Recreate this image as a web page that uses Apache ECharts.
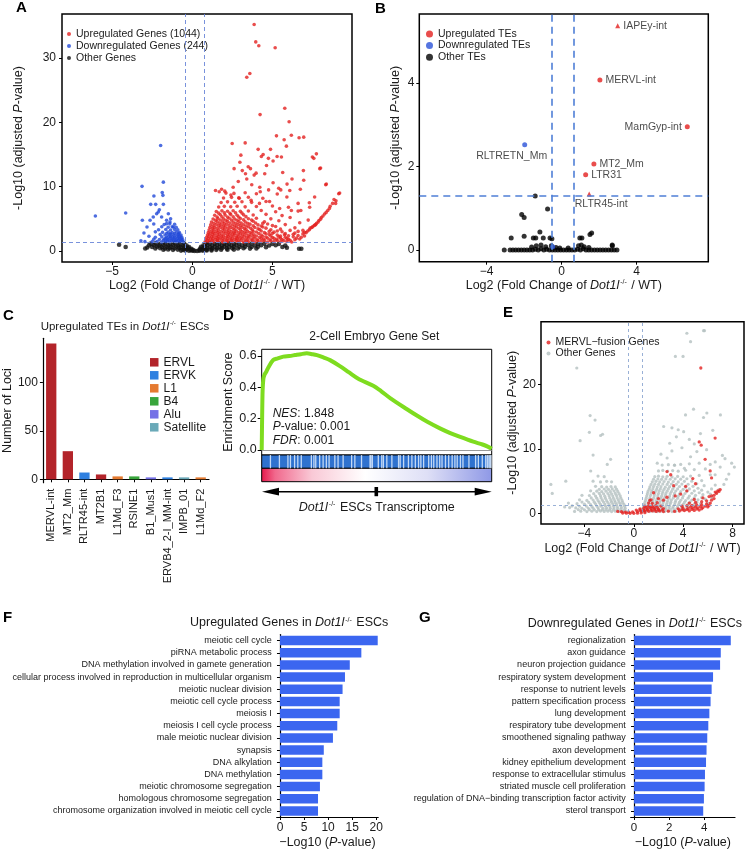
<!DOCTYPE html>
<html>
<head>
<meta charset="utf-8">
<script src="https://cdn.jsdelivr.net/npm/echarts@6/dist/echarts.min.js"></script>
<style>
  html, body { margin: 0; padding: 0; background: #fff; }
  #main { width: 745px; height: 850px; }
</style>
</head>
<body>
<div id="main"></div>
<script>
// ---------- data ----------
// A: volcano of genes (log2FC, -log10 padj)
const upA = [
  [3.86,35.2],[3.96,32.5],[4.15,31.9],[5.17,31.6],[3.40,27.0],[3.59,27.6],[5.77,22.2],[4.23,21.2],[6.04,20.1],[5.25,17.9],
  [6.18,18.0],[5.73,17.3],[6.66,17.6],[6.95,17.7],[2.49,16.7],[3.30,16.8],[5.87,16.3],[4.11,15.8],[4.88,15.8],[7.74,15.1],
  [7.49,14.6],[4.42,15.0],[4.75,14.4],[5.29,14.7],[5.04,14.0],[5.56,14.6],[2.97,13.8],[3.49,13.1],[3.63,12.8],[2.61,12.8],
  [7.95,12.8],[4.63,13.3],[6.93,12.5],[6.22,11.2],[4.52,12.0],[3.32,12.0],[6.95,11.0],[3.40,11.2],[3.86,11.8],[5.04,10.6],
  [8.32,10.3],[2.55,9.9],[4.21,9.9],[1.45,9.4],[2.03,9.3],[5.52,9.5],[6.08,9.4],[9.13,8.9],[7.63,8.4],[8.84,8.0],
  [8.94,7.4],[6.60,7.4],[7.32,6.8],[3.03,14.9],[4.31,14.7],[3.12,12.5],[3.98,12.1],[5.64,12.2],[5.91,10.4],[6.74,9.6],
  [7.58,14.4],[8.00,12.9],[8.36,10.4],[9.19,9.0],[8.96,7.8],[2.87,10.8],[3.71,10.3],[4.24,9.2],[4.76,9.5],[5.39,9.75],
  [1.68,9.2],[1.83,9.6],[2.41,8.7],[2.93,8.2],[3.67,7.9],[4.19,7.4],[4.82,7.7],[5.45,6.6],[6.18,6.3],[6.77,6.3],[7.23,4.8],
  [0.80,1.42],[1.05,1.50],[1.30,1.44],[1.60,1.52],[1.90,1.41],[2.20,1.48],[2.50,1.43],[2.85,1.50],[3.20,1.40],[3.50,1.47],
  [3.90,1.42],[4.30,1.51],[4.70,1.40],[5.10,1.46],[5.50,1.42],[5.90,1.49],[6.20,1.41],
  [0.95,1.62],[1.25,1.66],[1.55,1.60],[1.85,1.64],[2.15,1.61],[2.45,1.67],[2.75,1.62],[3.05,1.65],[3.40,1.60],[3.75,1.66],
  [4.10,1.61],[4.50,1.64],[4.90,1.60],[5.30,1.63],[5.70,1.61],[6.10,1.66],
  [0.85,1.76],[1.15,1.84],[1.45,1.78],[1.70,1.86],[2.00,1.75],[2.35,1.82],[2.65,1.77],[2.95,1.85],[3.30,1.74],[3.70,1.80],
  [4.05,1.76],[4.45,1.83],[4.85,1.75],[5.25,1.81],[5.60,1.77],[6.00,1.84],[6.40,1.76],[6.70,1.86],
  [1.00,1.96],[1.30,1.99],[1.60,1.94],[1.90,1.98],[2.20,1.95],[2.50,2.00],[2.80,1.96],[3.15,1.99],[3.50,1.94],[3.90,1.98],
  [4.30,1.95],[4.70,2.00],[5.10,1.96],[5.50,1.99],[5.90,1.95],[6.50,2.00],
  [0.90,2.12],[1.20,2.20],[1.50,2.10],[1.80,2.18],[2.10,2.13],[2.40,2.21],[2.75,2.11],[3.05,2.17],[3.40,2.14],[3.80,2.22],
  [4.20,2.12],[4.60,2.16],[5.00,2.11],[5.40,2.19],[5.80,2.13],[6.30,2.20],[6.80,2.14],[7.00,2.32],
  [1.05,2.31],[1.35,2.34],[1.65,2.29],[1.95,2.33],[2.25,2.30],[2.60,2.35],[2.90,2.31],[3.25,2.34],[3.60,2.29],[4.00,2.33],
  [4.40,2.30],[4.90,2.35],[5.50,2.31],[6.00,2.36],[6.60,2.40],
  [0.95,2.48],[1.25,2.55],[1.55,2.46],[1.85,2.53],[2.20,2.49],[2.50,2.57],[2.80,2.47],[3.15,2.54],[3.50,2.45],[3.85,2.52],
  [4.30,2.48],[4.80,2.56],[5.30,2.47],[5.75,2.53],[6.30,2.60],[6.90,2.66],[7.10,2.85],
  [1.10,2.68],[1.40,2.72],[1.70,2.66],[2.05,2.71],[2.35,2.67],[2.65,2.73],[3.00,2.68],[3.35,2.72],[3.70,2.66],[4.15,2.71],
  [4.60,2.67],[5.00,2.74],[5.80,2.70],[6.40,2.78],[7.00,2.90],
  [1.00,2.85],[1.30,2.93],[1.60,2.87],[1.95,2.95],[2.25,2.84],[2.60,2.92],[2.90,2.86],[3.25,2.94],[3.60,2.88],[4.00,2.96],
  [4.50,2.85],[5.10,2.93],[5.60,3.00],[6.60,3.05],[7.20,3.10],[7.30,3.30],
  [1.20,3.04],[1.50,3.08],[1.80,3.03],[2.15,3.07],[2.45,3.02],[2.75,3.09],[3.10,3.04],[3.45,3.08],[3.80,3.03],[4.30,3.10],
  [4.80,3.05],[5.30,3.12],[6.90,3.20],
  [1.05,3.25],[1.35,3.33],[1.65,3.27],[2.00,3.35],[2.30,3.24],[2.65,3.31],[3.00,3.28],[3.35,3.36],[3.75,3.26],[4.20,3.34],
  [4.90,3.30],[5.50,3.40],[6.10,3.20],[7.35,3.55],[7.50,3.75],
  [1.25,3.48],[1.55,3.52],[1.90,3.47],[2.20,3.53],[2.55,3.49],[2.90,3.54],[3.25,3.48],[3.65,3.52],[4.10,3.47],[4.60,3.55],[7.45,3.65],
  [1.10,3.66],[1.40,3.74],[1.75,3.68],[2.05,3.76],[2.40,3.65],[2.75,3.72],[3.10,3.69],[3.50,3.77],[3.90,3.66],[4.40,3.73],
  [5.20,3.80],[6.40,3.60],[7.60,3.95],[7.70,4.10],
  [1.30,3.88],[1.65,3.92],[1.95,3.87],[2.30,3.93],[2.65,3.88],[3.00,3.94],[3.35,3.89],[3.80,3.93],[4.30,3.88],[5.00,3.95],[7.65,4.05],
  [1.15,4.06],[1.50,4.14],[1.80,4.08],[2.15,4.16],[2.50,4.05],[2.85,4.12],[3.20,4.09],[3.60,4.17],[4.10,4.06],[4.70,4.20],
  [5.80,4.10],[7.75,4.30],[7.85,4.50],
  [1.35,4.30],[1.70,4.34],[2.00,4.29],[2.35,4.35],[2.70,4.30],[3.05,4.36],[3.45,4.31],[3.95,4.35],[4.40,4.30],
  [1.20,4.50],[1.55,4.58],[1.90,4.52],[2.20,4.60],[2.55,4.49],[2.90,4.56],[3.30,4.53],[3.80,4.62],[4.50,4.55],[5.40,4.70],
  [6.70,4.40],[7.90,4.75],[8.00,4.95],
  [1.45,4.78],[1.75,4.82],[2.10,4.77],[2.45,4.83],[2.80,4.78],[3.20,4.84],[3.70,4.80],
  [1.30,4.98],[1.60,5.06],[1.95,5.00],[2.30,5.08],[2.65,4.97],[3.00,5.04],[3.50,5.02],[4.00,5.10],[4.90,5.00],[6.10,5.20],
  [8.05,5.20],[8.15,5.45],
  [1.55,5.28],[1.85,5.32],[2.20,5.27],[2.55,5.33],[2.90,5.28],[3.35,5.34],
  [1.40,5.55],[1.75,5.64],[2.05,5.58],[2.40,5.66],[2.80,5.56],[3.20,5.62],[3.80,5.60],[4.60,5.70],[5.60,5.50],[8.25,5.75],[8.35,6.00],
  [1.65,5.88],[2.00,5.92],[2.35,5.87],[2.70,5.93],[3.10,5.89],
  [1.50,6.15],[1.85,6.24],[2.20,6.18],[2.55,6.26],[3.00,6.16],[3.50,6.22],[4.30,6.30],[5.20,6.10],[6.60,6.20],[8.45,6.30],[8.55,6.60],
  [1.65,6.85],[2.00,6.94],[2.40,6.88],[2.80,6.96],[3.30,6.86],[4.00,6.92],[5.00,7.00],[6.00,6.80],[8.60,6.95],
  [1.80,7.55],[2.20,7.64],[2.65,7.58],[3.10,7.66],[3.70,7.56],[4.60,7.70],[7.30,7.50],[8.75,7.40],
  [1.95,8.25],[2.45,8.34],[2.90,8.28],[3.50,8.36],[4.40,8.20],[5.90,8.40],
  [2.10,9.00],[2.60,8.95],[3.30,9.05],[4.00,8.90],[5.30,8.85]
];
const downA = [
  [-6.04,5.44],[-4.15,5.90],[-3.13,10.05],[-1.97,16.4],[-1.80,10.7],[-1.87,9.1],[-1.83,8.65],[-2.39,8.55],[-2.59,7.25],
  [-2.28,7.25],[-1.80,7.25],[-3.11,4.77],[-2.82,3.73],[-3.01,2.80],[-2.63,4.77],[-2.22,5.80],[-1.91,5.28],[-1.60,4.77],
  [-2.05,6.40],[-1.35,5.00],[-2.70,2.30],[-3.20,1.60],[-2.95,1.45],[-2.43,5.28],[-2.12,6.06],[-1.49,5.80],[-1.60,4.25],
  [-1.39,4.50],[-1.18,3.73],
  [-0.55,1.42],[-0.75,1.50],[-0.95,1.43],[-1.15,1.52],[-1.40,1.44],[-1.65,1.49],[-1.90,1.41],[-2.20,1.47],[-2.50,1.45],
  [-0.65,1.62],[-0.85,1.65],[-1.05,1.60],[-1.30,1.64],[-1.55,1.61],[-1.80,1.66],
  [-0.60,1.78],[-0.80,1.85],[-1.00,1.76],[-1.25,1.83],[-1.50,1.79],[-1.75,1.86],[-2.05,1.77],[-2.40,1.82],
  [-0.70,1.96],[-0.92,1.99],[-1.15,1.94],[-1.40,1.98],[-1.65,1.95],
  [-0.65,2.12],[-0.85,2.19],[-1.10,2.11],[-1.35,2.18],[-1.60,2.13],[-1.90,2.20],[-2.30,2.14],
  [-0.78,2.31],[-1.00,2.34],[-1.25,2.29],[-1.50,2.33],
  [-0.70,2.48],[-0.90,2.55],[-1.15,2.47],[-1.40,2.54],[-1.70,2.49],[-2.00,2.56],
  [-0.85,2.70],[-1.10,2.73],[-1.35,2.68],[-1.60,2.72],
  [-0.80,2.88],[-1.00,2.95],[-1.25,2.86],[-1.50,2.93],[-1.85,2.90],[-2.30,2.98],
  [-0.90,3.28],[-1.10,3.35],[-1.35,3.27],[-1.65,3.34],[-2.10,3.30],
  [-1.00,3.70],[-1.25,3.78],[-1.50,3.69],[-1.90,3.76],
  [-1.10,4.15],[-1.40,4.22],[-1.75,4.12],[-2.40,4.20]
];
const otherA = [
  [-4.56,0.98],[-4.15,0.62],[-2.93,0.40],[-2.80,0.55],[6.66,0.35],[6.80,0.35],[5.62,0.62],[5.90,0.50],
  [-2.60,1.14],[-2.30,1.18],[-2.00,1.12],[-1.70,1.17],[-1.40,1.13],[-1.10,1.19],[-0.80,1.12],[-0.50,1.16],
  [0.85,1.15],[1.10,1.19],[1.40,1.12],[1.70,1.17],[2.00,1.13],[2.30,1.18],[2.60,1.12],[2.90,1.16],[3.30,1.13],[3.70,1.17],
  [4.10,1.12],[4.50,1.15],[5.00,1.11],[5.40,1.10],
  [-2.70,0.88],[-2.40,0.93],[-2.10,0.87],[-1.80,0.92],[-1.50,0.89],[-1.20,0.94],[-0.90,0.88],[-0.60,0.92],[-0.35,0.86],
  [0.70,0.90],[0.95,0.94],[1.25,0.88],[1.55,0.93],[1.85,0.87],[2.15,0.92],[2.45,0.89],[2.75,0.94],[3.10,0.88],[3.50,0.92],
  [3.90,0.87],[4.30,0.91],[4.80,0.86],[5.20,0.90],[5.80,0.84],
  [-2.50,0.63],[-2.20,0.68],[-1.90,0.62],[-1.60,0.67],[-1.30,0.64],[-1.00,0.69],[-0.70,0.63],[-0.45,0.66],[-0.20,0.60],
  [0.55,0.64],[0.80,0.68],[1.10,0.62],[1.40,0.67],[1.70,0.63],[2.00,0.68],[2.30,0.62],[2.60,0.66],[2.95,0.63],[3.30,0.67],
  [3.70,0.62],[4.10,0.65],[4.60,0.60],
  [-2.30,0.38],[-2.00,0.43],[-1.70,0.37],[-1.40,0.42],[-1.10,0.39],[-0.80,0.44],[-0.50,0.38],[-0.25,0.41],[-0.05,0.36],
  [0.50,0.39],[0.70,0.43],[0.95,0.37],[1.25,0.42],[1.55,0.38],[1.85,0.43],[2.15,0.37],[2.50,0.41],[2.85,0.38],[3.20,0.42],
  [3.60,0.37],[4.00,0.40],
  [-1.80,0.20],[-1.50,0.24],[-1.20,0.18],[-0.90,0.22],[-0.60,0.19],[-0.35,0.23],[-0.10,0.17],[0.05,0.14],[0.45,0.18],
  [0.65,0.22],[0.90,0.19],[1.20,0.23],[1.50,0.18],[1.80,0.21],[2.20,0.19],[2.60,0.22],
  [-0.70,0.06],[-0.45,0.08],[-0.20,0.05],[0.00,0.04],[0.15,0.02],[0.30,0.01],[0.45,0.03],[0.65,0.06],[0.90,0.08],[1.20,0.07]
];
const threshA = [-0.42, 0.75];
const pCutA = 1.3;

// B: volcano of TE families
const upTeNames = ['IAPEy-int', 'MERVL-int', 'MamGyp-int', 'MT2_Mm', 'LTR31', 'RLTR45-int'];
const upTeX = [2.99, 2.04, 6.70, 1.72, 1.28, 1.47];
const upTeY = [5.37, 4.07, 2.95, 2.06, 1.80, 1.34];
const downTeNames = ['RLTRETN_Mm', ''];
const downTeX = [-1.97, -0.48];
const downTeY = [2.52, 0.08];
const otherB = [
  [-3.06,0],[-2.75,0],[-2.60,0],[-2.45,0],[-2.30,0],[-2.15,0],[-2.00,0],[-1.85,0],[-1.70,0],[-1.55,0],[-1.40,0.02],
  [-1.25,0],[-1.10,0.03],[-0.95,0],[-0.80,0.02],[-0.65,0],[-0.50,0],[-0.35,0],[-0.20,0],[-0.05,0],[0.10,0],[0.25,0],
  [0.40,0],[0.55,0],[0.70,0],[0.85,0.02],[1.00,0],[1.15,0.03],[1.30,0],[1.45,0],[1.60,0],[1.75,0],[1.90,0],[2.05,0],
  [2.20,0],[2.35,0],[2.50,0],[2.65,0],[2.80,0],[2.95,0],
  [-1.35,0.10],[-1.10,0.12],[-0.85,0.08],[-0.55,0.10],[-0.30,0.06],[0.35,0.05],[0.90,0.10],[1.05,0.12],[1.20,0.08],
  [1.45,0.06],[2.70,0.10],[-1.60,0.07],[-0.10,0.05],
  [-1.41,1.29],[-0.75,0.98],[-2.13,0.85],[-2.00,0.78],[-2.69,0.29],[-2.00,0.33],[-1.51,0.29],[-1.38,0.29],[-1.16,0.43],
  [-0.98,0.29],[-0.62,0.29],[-0.52,0.27],[0.97,0.29],[1.08,0.29],[1.51,0.37],[1.60,0.41],[2.70,0.12]
];
const threshB = [-0.53, 0.66];
const pCutB = 1.3;

// C: upregulated TE loci
const teCats = ['MERVL-int', 'MT2_Mm', 'RLTR45-int', 'MT2B1', 'L1Md_F3', 'RSINE1', 'B1_Mus1', 'ERVB4_2-I_MM-int', 'IMPB_01', 'L1Md_F2'];
const teLoci = [140, 29, 7, 5, 3, 3, 2, 2, 2, 2];
const teFamily = ['ERVL', 'ERVL', 'ERVK', 'ERVL', 'L1', 'B4', 'Alu', 'ERVK', 'Satellite', 'L1'];
const families = ['ERVL', 'ERVK', 'L1', 'B4', 'Alu', 'Satellite'];

// D: GSEA running enrichment score
const esX = [0, 0.002, 0.004, 0.007, 0.012, 0.02, 0.03, 0.05, 0.07, 0.094, 0.12, 0.145, 0.17, 0.196, 0.22, 0.24, 0.27,
  0.297, 0.34, 0.38, 0.42, 0.485, 0.52, 0.56, 0.63, 0.68, 0.72, 0.775, 0.82, 0.86, 0.92, 0.96, 0.985, 1];
const esY = [0, 0.22, 0.38, 0.45, 0.48, 0.50, 0.53, 0.575, 0.585, 0.596, 0.60, 0.606, 0.612, 0.617, 0.612, 0.606, 0.59,
  0.574, 0.536, 0.495, 0.455, 0.41, 0.375, 0.33, 0.262, 0.215, 0.18, 0.138, 0.108, 0.085, 0.053, 0.035, 0.02, 0.008];
const barcodeGaps = [0.038, 0.077, 0.114, 0.125, 0.143, 0.157, 0.172, 0.216, 0.227, 0.235, 0.252, 0.267, 0.281, 0.293,
  0.318, 0.332, 0.354, 0.391, 0.405, 0.434, 0.471, 0.475, 0.481, 0.507, 0.522, 0.529, 0.544, 0.566, 0.595, 0.602, 0.617,
  0.638, 0.653, 0.668, 0.682, 0.692, 0.704, 0.726, 0.738, 0.748, 0.762, 0.774, 0.784, 0.799, 0.813, 0.828, 0.840, 0.850,
  0.864, 0.875, 0.901, 0.930, 0.942, 0.959, 0.974, 0.981, 0.988, 0.993, 0.997];

// E: volcano with MERVL-fusion genes
const mervlE = [
  [5.43,22.6],[5.30,11.1],[5.46,10.6],[6.59,11.7],[5.78,8.4],[2.69,6.5],[2.99,6.0],[3.23,4.3],[4.78,5.4],[6.19,6.6],
  [4.30,3.5],[2.69,2.5],[3.36,2.7],[5.00,4.6],[4.20,4.2],[6.30,5.5],[3.80,3.0],[2.00,2.3],[1.60,3.2],[1.30,2.0],
  [-0.90,0.05],[-0.60,0.02],[-0.30,0.00],[0.00,0.01],[0.30,0.03],[0.60,0.06],[0.90,0.10],
  [-1.30,0.30],[-1.00,0.25],[-0.70,0.20],[-0.40,0.18],[-0.10,0.22],[0.30,0.28],[0.60,0.33],[0.90,0.36],[1.20,0.31],
  [1.50,0.38],[1.80,0.30],[2.10,0.35],[2.40,0.28],[2.80,0.33],[3.30,0.30],[3.70,0.36],[4.10,0.42],[4.50,0.38],[4.90,0.45],[5.30,0.50],
  [0.20,0.50],[0.50,0.52],[0.80,0.48],[1.10,0.55],[1.40,0.50],[1.70,0.53],[2.00,0.49],[2.30,0.54],[3.90,0.55],[4.30,0.58],
  [4.70,0.60],[5.10,0.66],[5.50,0.70],
  [0.50,0.70],[0.80,0.75],[1.10,0.68],[1.40,0.78],[1.70,0.72],[2.00,0.66],[2.40,0.74],[3.60,0.70],[4.00,0.76],[4.40,0.72],
  [4.80,0.80],[5.20,0.85],[5.60,0.90],[6.00,1.00],
  [1.00,0.92],[1.30,0.95],[1.60,0.90],[1.90,0.94],[4.60,0.95],[5.00,1.00],[5.40,1.05],[5.80,1.12],[6.10,1.25],
  [0.90,1.10],[1.20,1.15],[1.50,1.08],[1.80,1.20],[2.20,1.12],[3.90,1.10],[4.30,1.18],[4.70,1.25],[5.10,1.30],[5.50,1.35],
  [5.90,1.45],[6.20,1.60],
  [1.20,1.60],[1.50,1.55],[1.90,1.65],[4.50,1.60],[5.00,1.70],[5.50,1.80],[5.90,1.95],[6.30,2.05],[6.50,2.30],
  [1.40,2.10],[2.40,2.05],[4.90,2.15],[5.60,2.40],[6.10,2.60],[6.50,2.80],[6.70,3.10],[6.30,2.70],[6.60,3.30],[6.80,3.50],
  [6.90,3.40],[7.00,3.70]
];
const otherE = [
  [4.30,28.0],[5.65,28.4],[5.73,28.4],[4.60,26.7],[3.37,24.4],[3.99,24.4],[-4.62,22.6],[2.42,13.5],[-3.54,15.2],[-3.14,14.5],
  [-3.60,12.6],[-2.53,12.3],[-2.69,12.1],[-4.35,11.3],[-3.30,9.06],[-3.49,6.58],[-5.51,5.0],[-6.72,4.5],[-6.61,3.1],[-1.88,8.4],
  [-2.15,7.6],[4.19,15.3],[4.84,16.2],[5.65,14.9],[5.92,15.6],[7.02,15.3],[3.45,11.9],[4.04,12.7],[2.91,10.9],[3.09,9.7],
  [5.11,9.6],[7.93,7.8],[8.15,7.2],[7.39,8.5],[7.18,9.0],[7.00,7.2],[6.59,6.0],[6.19,7.6],[3.09,13.3],[3.60,13.0],
  [4.50,11.5],[4.90,10.8],[5.40,12.4],[6.40,12.9],[3.90,10.2],[2.20,9.2],[2.70,8.6],[1.90,7.8],[4.60,8.8],[5.90,9.9],
  [6.60,8.0],[3.30,7.5],[4.10,7.0],
  [0.70,0.30],[1.00,0.36],[1.30,0.28],[1.60,0.34],[1.90,0.27],[2.20,0.33],[2.50,0.29],[2.80,0.35],[3.10,0.28],[3.40,0.32],
  [0.90,0.55],[1.15,0.58],[1.45,0.53],[1.75,0.57],[2.05,0.54],[2.35,0.59],[2.65,0.55],[2.95,0.58],[3.30,0.54],[3.70,0.57],[4.10,0.55],
  [0.75,0.80],[1.05,0.86],[1.35,0.78],[1.65,0.84],[1.95,0.77],[2.25,0.85],[2.55,0.79],[2.85,0.86],[3.15,0.80],[3.50,0.83],
  [3.90,0.78],[4.30,0.84],
  [0.80,1.10],[1.10,1.13],[1.40,1.08],[1.70,1.12],[2.00,1.09],[2.30,1.14],[2.60,1.10],[2.90,1.13],[3.20,1.08],[3.55,1.12],
  [3.95,1.09],[4.40,1.14],[4.90,1.10],
  [0.85,1.40],[1.15,1.47],[1.45,1.38],[1.75,1.45],[2.05,1.36],[2.35,1.44],[2.65,1.39],[2.95,1.47],[3.30,1.37],[3.65,1.43],
  [4.00,1.38],[4.40,1.46],[4.90,1.41],[5.40,1.49],[6.00,1.55],
  [0.90,1.70],[1.20,1.74],[1.50,1.69],[1.80,1.73],[2.10,1.68],[2.40,1.75],[2.70,1.70],[3.00,1.74],[3.35,1.69],[3.70,1.73],
  [4.10,1.70],[4.55,1.76],[5.10,1.72],
  [0.95,2.00],[1.25,2.07],[1.55,1.98],[1.85,2.05],[2.15,1.96],[2.45,2.04],[2.75,1.99],[3.05,2.07],[3.40,1.97],[3.80,2.03],
  [4.20,1.98],[4.70,2.06],[5.20,2.10],[5.80,2.20],[6.30,2.45],
  [1.00,2.35],[1.30,2.39],[1.60,2.34],[1.90,2.38],[2.20,2.33],[2.50,2.40],[2.85,2.35],[3.20,2.39],[3.55,2.34],[3.95,2.38],
  [4.40,2.35],[4.90,2.41],[5.50,2.45],
  [1.05,2.70],[1.35,2.77],[1.65,2.68],[1.95,2.75],[2.25,2.66],[2.55,2.74],[2.90,2.69],[3.25,2.77],[3.60,2.67],[4.00,2.73],
  [4.50,2.68],[5.00,2.80],[5.60,2.90],[6.20,3.00],[6.70,3.20],
  [1.10,3.05],[1.40,3.09],[1.70,3.04],[2.00,3.08],[2.30,3.03],[2.60,3.10],[2.95,3.05],[3.30,3.09],[3.70,3.04],[4.15,3.08],
  [4.70,3.12],[5.30,3.20],[6.00,3.30],
  [1.15,3.40],[1.45,3.47],[1.75,3.38],[2.05,3.45],[2.35,3.36],[2.70,3.44],[3.05,3.39],[3.40,3.47],[3.80,3.37],[4.30,3.43],
  [4.90,3.50],[5.50,3.60],[6.30,3.80],[6.90,3.70],
  [1.25,3.75],[1.55,3.79],[1.85,3.74],[2.15,3.78],[2.45,3.73],[2.80,3.80],[3.15,3.75],[3.55,3.79],[4.00,3.74],[4.50,3.80],[5.20,3.90],
  [1.30,4.10],[1.60,4.17],[1.90,4.08],[2.20,4.15],[2.55,4.06],[2.90,4.14],[3.25,4.09],[3.70,4.17],[4.20,4.07],[4.80,4.20],
  [5.70,4.30],[6.60,4.40],[7.30,4.50],
  [1.40,4.50],[1.70,4.54],[2.00,4.49],[2.35,4.55],[2.70,4.50],[3.05,4.56],[3.45,4.51],[3.90,4.55],[4.40,4.52],[5.10,4.60],
  [1.50,4.90],[1.80,4.97],[2.10,4.88],[2.45,4.95],[2.80,4.86],[3.20,4.94],[3.60,4.89],[4.10,4.97],[4.70,5.00],[5.50,5.10],[7.50,5.30],
  [1.60,5.30],[1.95,5.34],[2.25,5.29],[2.60,5.35],[2.95,5.30],[3.35,5.36],[3.80,5.31],[4.30,5.38],
  [1.70,5.70],[2.00,5.77],[2.35,5.68],[2.70,5.75],[3.10,5.66],[3.55,5.74],[4.00,5.69],[4.60,5.80],[5.30,5.90],[6.20,6.00],[7.70,6.10],
  [2.00,6.60],[2.35,6.67],[2.75,6.58],[3.15,6.65],[3.60,6.56],[4.20,6.70],[4.90,6.80],[5.80,6.90],
  [2.30,7.50],[2.80,7.57],[3.30,7.48],[3.80,7.60],[4.50,7.70],[5.30,7.80],
  [-0.60,0.30],[-0.90,0.36],[-1.20,0.28],[-1.50,0.34],[-1.80,0.27],[-2.10,0.33],[-2.40,0.29],[-2.70,0.35],[-3.00,0.28],
  [-3.40,0.32],[-3.80,0.27],[-4.30,0.34],[-4.80,0.30],
  [-0.75,0.55],[-1.05,0.58],[-1.35,0.53],[-1.65,0.57],[-1.95,0.54],[-2.25,0.59],[-2.55,0.55],[-2.85,0.58],[-3.20,0.54],
  [-3.60,0.57],[-4.00,0.55],[-4.50,0.58],
  [-0.70,0.80],[-1.00,0.86],[-1.30,0.78],[-1.60,0.84],[-1.90,0.77],[-2.20,0.85],[-2.50,0.79],[-2.90,0.86],[-3.30,0.80],
  [-3.70,0.83],[-4.20,0.78],[-4.70,0.84],[-5.20,0.90],[-5.60,1.00],
  [-0.75,1.10],[-1.05,1.13],[-1.35,1.08],[-1.65,1.12],[-1.95,1.09],[-2.30,1.14],[-2.65,1.10],[-3.00,1.13],[-3.40,1.08],
  [-3.85,1.12],[-4.40,1.10],[-5.00,1.15],
  [-0.80,1.40],[-1.10,1.47],[-1.40,1.38],[-1.70,1.45],[-2.00,1.36],[-2.35,1.44],[-2.70,1.39],[-3.10,1.47],[-3.50,1.37],
  [-4.00,1.43],[-4.60,1.50],[-5.30,1.60],
  [-0.90,1.70],[-1.20,1.74],[-1.50,1.69],[-1.80,1.73],[-2.10,1.68],[-2.45,1.75],[-2.80,1.70],[-3.20,1.74],[-3.65,1.69],[-4.20,1.75],
  [-0.95,2.00],[-1.25,2.07],[-1.55,1.98],[-1.85,2.05],[-2.20,1.96],[-2.55,2.04],[-2.90,1.99],[-3.30,2.07],[-3.80,2.00],[-4.40,2.10],
  [-1.05,2.35],[-1.35,2.39],[-1.65,2.34],[-1.95,2.38],[-2.30,2.33],[-2.65,2.40],[-3.00,2.35],[-3.45,2.39],
  [-1.10,2.70],[-1.40,2.77],[-1.70,2.68],[-2.00,2.75],[-2.35,2.66],[-2.70,2.74],[-3.10,2.69],[-3.60,2.77],[-4.20,2.80],
  [-1.20,3.05],[-1.50,3.09],[-1.80,3.04],[-2.10,3.08],[-2.45,3.03],[-2.80,3.10],[-3.25,3.05],
  [-1.30,3.40],[-1.60,3.47],[-1.90,3.38],[-2.25,3.45],[-2.60,3.36],[-3.00,3.44],[-3.50,3.50],
  [-1.40,3.75],[-1.75,3.79],[-2.05,3.74],[-2.40,3.78],[-2.80,3.73],
  [-1.50,4.10],[-1.85,4.17],[-2.20,4.08],[-2.60,4.15],[-3.10,4.20],
  [-1.80,4.90],[-2.20,4.97],[-2.70,4.88],[-3.30,5.00],
  [-2.40,5.70],[-2.90,5.80]
];
const threshE = [-0.48, 0.67];
const pCutE = 1.2;

// F / G: GO enrichment
const goUpTerms = ['meiotic cell cycle', 'piRNA metabolic process', 'DNA methylation involved in gamete generation',
  'cellular process involved in reproduction in multicellular organism', 'meiotic nuclear division',
  'meiotic cell cycle process', 'meiosis I', 'meiosis I cell cycle process', 'male meiotic nuclear division',
  'synapsis', 'DNA alkylation', 'DNA methylation', 'meiotic chromosome segregation',
  'homologous chromosome segregation', 'chromosome organization involved in meiotic cell cycle'];
const goUpValues = [20.3, 16.9, 14.5, 13.5, 13.0, 12.4, 12.4, 11.9, 11.0, 9.1, 8.8, 8.8, 8.3, 7.9, 7.9];
const goDownTerms = ['regionalization', 'axon guidance', 'neuron projection guidance', 'respiratory system development',
  'response to nutrient levels', 'pattern specification process', 'lung development', 'respiratory tube development',
  'smoothened signaling pathway', 'axon development', 'kidney epithelium development',
  'response to extracellular stimulus', 'striated muscle cell proliferation',
  'regulation of DNA\u2212binding transcription factor activity', 'sterol transport'];
const goDownValues = [5.51, 4.94, 4.90, 4.50, 4.42, 4.36, 4.29, 4.23, 4.17, 4.13, 4.10, 4.04, 4.02, 3.98, 3.94];

// ---------- styles ----------
const FONT = "'Liberation Sans', Arial, sans-serif";
const INK = '#1a1a1a';
const RED = '#e3211f';
const familyColors = { ERVL: '#b3242a', ERVK: '#2f80e0', L1: '#e57a30', B4: '#38a53b', Alu: '#7571e6', Satellite: '#6aa9b8' };

const richFor = (size) => ({
  i: { fontStyle: 'italic', fontSize: size, fontFamily: FONT, color: INK },
  s: { fontSize: Math.round(size * 0.55), fontFamily: FONT, color: INK, verticalAlign: 'top', padding: [0, 1, 0, 1] }
});

function valueAxis(g, min, max, ticks, more) {
  const ax = {
    type: 'value', gridIndex: g, min: min, max: max,
    splitLine: { show: false },
    axisLine: { show: false, onZero: false },
    axisTick: { show: true, length: 3, customValues: ticks, lineStyle: { color: '#000', width: 1 } },
    axisLabel: { customValues: ticks, fontSize: 12, fontFamily: FONT, color: INK, margin: 5 },
    nameLocation: 'middle',
    nameTextStyle: { fontSize: 12.5, fontFamily: FONT, color: INK, rich: richFor(12.5) }
  };
  return Object.assign(ax, more || {});
}
const minusFmt = v => v < 0 ? '\u2212' + (-v) : String(v);

const xNameFC = 'Log2 (Fold Change of {i|Dot1l}{s|-/-} / WT)';
const yNameP = '-Log10 (adjusted {i|P}-value)';

function txt(x, y, text, size, align, extra) {
  return {
    type: 'text', x: x, y: y, silent: true,
    style: Object.assign({
      text: text, fontSize: size, fontFamily: FONT, fill: INK,
      align: align || 'left', verticalAlign: 'middle',
      textAlign: align || 'left', textVerticalAlign: 'middle',
      rich: {
        i: { fontStyle: 'italic', fontSize: size, fontFamily: FONT, fill: INK },
        s: { fontSize: Math.round(size * 0.55), fontFamily: FONT, fill: INK, verticalAlign: 'top', padding: [0, 1, 0, 1] }
      }
    }, extra || {})
  };
}
const panelLabel = (x, y, t) => txt(x, y, t, 15, 'left', { fontWeight: 'bold', fill: '#000' });

function thresholdLines(xs, yv, color, width, dash) {
  return {
    silent: true, symbol: ['none', 'none'], label: { show: false }, animation: false,
    lineStyle: { type: dash, color: color, width: width },
    data: xs.map(v => ({ xAxis: v })).concat([{ yAxis: yv }])
  };
}

// ---------- chart ----------
const chart = echarts.init(document.getElementById('main'));

const labelPosB = ['right', 'right', 'left', 'right', 'right', 'bottom'];
const labelOffB = [[0, 0], [0, 0], [0, 0], [0, 0], [0, 0], [12, -1]];
const upTeData = upTeNames.map((n, i) => ({
  name: n, value: [upTeX[i], upTeY[i]],
  symbol: (n === 'IAPEy-int' || n === 'RLTR45-int') ? 'triangle' : 'circle',
  label: { position: labelPosB[i], offset: labelOffB[i] }
}));
const downTeData = downTeNames.map((n, i) => ({
  name: n, value: [downTeX[i], downTeY[i]],
  label: { show: n !== '', position: 'bottom', offset: [-13, 0] }
}));

const familySeries = families.map(f => ({
  name: f, type: 'bar', xAxisIndex: 2, yAxisIndex: 2, stack: 'loci', barWidth: '62%',
  itemStyle: { color: familyColors[f] },
  data: teLoci.map((v, i) => teFamily[i] === f ? v : '-')
}));

const option = {
  animation: false,
  backgroundColor: '#fff',
  textStyle: { fontFamily: FONT },
  grid: [
    { left: 62, top: 14, width: 290, height: 248, show: true, borderColor: '#000', borderWidth: 1.5, backgroundColor: 'transparent' },
    { left: 419.3, top: 14, width: 289, height: 247.7, show: true, borderColor: '#000', borderWidth: 1.5, backgroundColor: 'transparent' },
    { left: 36, top: 338.3, width: 173, height: 144.4 },
    { left: 261.7, top: 349.3, width: 230, height: 105.7, show: true, borderColor: '#000', borderWidth: 1, backgroundColor: 'transparent' },
    { left: 261.7, top: 455, width: 230, height: 13.3, show: true, borderColor: '#000', borderWidth: 1, backgroundColor: '#2f72cf' },
    { left: 541, top: 321.7, width: 203, height: 202.3, show: true, borderColor: '#000', borderWidth: 1.5, backgroundColor: 'transparent' },
    { left: 276.7, top: 634.5, width: 101.5, height: 184.8 },
    { left: 630.7, top: 634.5, width: 104.3, height: 184.8 }
  ],
  xAxis: [
    valueAxis(0, -8.12, 9.96, [-5, 0, 5], { name: xNameFC, nameGap: 15, axisLabel: { customValues: [-5, 0, 5], fontSize: 12, fontFamily: FONT, color: INK, margin: 4, formatter: minusFmt } }),
    valueAxis(1, -7.59, 7.82, [-4, 0, 4], { name: xNameFC, nameGap: 17, axisLabel: { customValues: [-4, 0, 4], fontSize: 12, fontFamily: FONT, color: INK, margin: 4, formatter: minusFmt } }),
    {
      type: 'category', gridIndex: 2, data: teCats,
      axisLine: { show: true, lineStyle: { color: '#000', width: 1.2 } },
      axisTick: { show: true, alignWithLabel: true, length: 3, lineStyle: { color: '#000' } },
      axisLabel: { interval: 0, rotate: 90, fontSize: 11, fontFamily: FONT, color: INK, margin: 6 }
    },
    { type: 'value', gridIndex: 3, min: 0, max: 1, show: false },
    { type: 'value', gridIndex: 4, min: 0, max: 1, show: false },
    valueAxis(5, -7.52, 8.93, [-4, 0, 4, 8], { name: xNameFC, nameGap: 18, axisLabel: { customValues: [-4, 0, 4, 8], fontSize: 12, fontFamily: FONT, color: INK, margin: 4, formatter: minusFmt } }),
    valueAxis(6, -0.68, 20.4, [0, 5, 10, 15, 20], {
      axisLine: { show: true, onZero: false, lineStyle: { color: '#000', width: 1.2 } },
      name: '\u2212Log10 ({i|P}-value)', nameGap: 19
    }),
    valueAxis(7, -0.19, 5.75, [0, 2, 4], {
      axisLine: { show: true, onZero: false, lineStyle: { color: '#000', width: 1.2 } },
      axisLabel: { customValues: [0, 2, 4], fontSize: 11.5, fontFamily: FONT, color: INK, margin: 5 },
      name: '\u2212Log10 ({i|P}-value)', nameGap: 19
    })
  ],
  yAxis: [
    valueAxis(0, -1.71, 36.84, [0, 10, 20, 30], { name: yNameP, nameGap: 37, axisLabel: { customValues: [0, 10, 20, 30], fontSize: 12, fontFamily: FONT, color: INK, margin: 6 } }),
    valueAxis(1, -0.28, 5.65, [0, 2, 4], { name: yNameP, nameGap: 17 }),
    valueAxis(2, -3.5, 145.4, [0, 50, 100], {
      axisLine: { show: true, onZero: false, lineStyle: { color: '#000', width: 1.2 } },
      name: 'Number of Loci', nameGap: 24
    }),
    valueAxis(3, -0.032, 0.643, [0, 0.2, 0.4, 0.6], {
      axisTick: { show: true, length: 4, customValues: [0, 0.2, 0.4, 0.6], lineStyle: { color: '#000' } },
      axisLabel: { customValues: [0, 0.2, 0.4, 0.6], fontSize: 12.5, fontFamily: FONT, color: INK, margin: 5, formatter: v => v.toFixed(1) },
      name: 'Enrichment Score', nameGap: 24
    }),
    { type: 'value', gridIndex: 4, min: 0, max: 1, show: false },
    valueAxis(5, -1.66, 29.8, [0, 10, 20], { name: yNameP, nameGap: 20 }),
    {
      type: 'category', gridIndex: 6, data: goUpTerms, inverse: true,
      axisLine: { show: true, lineStyle: { color: '#000', width: 1.2 } },
      axisTick: { show: true, alignWithLabel: true, length: 3, lineStyle: { color: '#000' } },
      axisLabel: { interval: 0, fontSize: 9, fontFamily: FONT, color: INK, margin: 5 }
    },
    {
      type: 'category', gridIndex: 7, data: goDownTerms, inverse: true,
      axisLine: { show: true, lineStyle: { color: '#000', width: 1.2 } },
      axisTick: { show: true, alignWithLabel: true, length: 3, lineStyle: { color: '#000' } },
      axisLabel: { interval: 0, fontSize: 9, fontFamily: FONT, color: INK, margin: 5 }
    }
  ],
  legend: [
    {
      left: 62, top: 23, orient: 'vertical', itemGap: 0, itemWidth: 4, itemHeight: 12, icon: 'circle',
      textStyle: { fontSize: 10.5, fontFamily: FONT, color: INK, lineHeight: 12 },
      data: ['Upregulated Genes (1044)', 'Downregulated Genes (244)', 'Other Genes']
    },
    {
      left: 421, top: 23.2, orient: 'vertical', itemGap: 0, itemWidth: 7, itemHeight: 11.6, icon: 'circle',
      textStyle: { fontSize: 10.5, fontFamily: FONT, color: INK, lineHeight: 11.6 },
      data: ['Upregulated TEs', 'Downregulated TEs', 'Other TEs']
    },
    {
      left: 145, top: 350.8, orient: 'vertical', itemGap: 0, itemWidth: 8.5, itemHeight: 8.5, icon: 'rect',
      textStyle: { fontSize: 12, fontFamily: FONT, color: INK, lineHeight: 13 },
      data: families
    },
    {
      left: 541.5, top: 332.1, orient: 'vertical', itemGap: 0, itemWidth: 4, itemHeight: 10.4, icon: 'circle',
      textStyle: { fontSize: 10.5, fontFamily: FONT, color: INK, lineHeight: 10.4 },
      data: ['MERVL\u2212fusion Genes', 'Other Genes ']
    }
  ],
  series: [
    // A
    { name: 'Other Genes', type: 'scatter', xAxisIndex: 0, yAxisIndex: 0, data: otherA, symbolSize: 4.6, itemStyle: { color: '#111' }, silent: true },
    { name: 'Downregulated Genes (244)', type: 'scatter', xAxisIndex: 0, yAxisIndex: 0, data: downA, symbolSize: 3.6, itemStyle: { color: '#2048d8' }, silent: true },
    {
      name: 'Upregulated Genes (1044)', type: 'scatter', xAxisIndex: 0, yAxisIndex: 0, data: upA, symbolSize: 3.6, itemStyle: { color: RED }, silent: true,
      markLine: thresholdLines(threshA, pCutA, '#6a86d8', 0.9, [4, 3])
    },
    // B
    {
      name: 'Other TEs', type: 'scatter', xAxisIndex: 1, yAxisIndex: 1, data: otherB, symbolSize: 5, itemStyle: { color: '#000' }, silent: true,
      markLine: thresholdLines(threshB, pCutB, '#4f7fd6', 1.6, [7, 5])
    },
    {
      name: 'Downregulated TEs', type: 'scatter', xAxisIndex: 1, yAxisIndex: 1, data: downTeData, symbolSize: 5, itemStyle: { color: '#2a52d8' }, silent: true,
      label: { show: true, formatter: '{b}', fontSize: 10.5, fontFamily: FONT, color: INK, distance: 3 }
    },
    {
      name: 'Upregulated TEs', type: 'scatter', xAxisIndex: 1, yAxisIndex: 1, data: upTeData, symbolSize: 5, itemStyle: { color: RED }, silent: true,
      label: { show: true, formatter: '{b}', fontSize: 10.5, fontFamily: FONT, color: INK, distance: 3 }
    },
    // C
    ...familySeries,
    // D
    {
      type: 'line', xAxisIndex: 3, yAxisIndex: 3, data: esX.map((x, i) => [x, esY[i]]), showSymbol: false, smooth: 0.3,
      lineStyle: { color: '#7edc1f', width: 4 }, silent: true, z: 3,
      markLine: { silent: true, symbol: ['none', 'none'], label: { show: false }, lineStyle: { type: 'solid', color: '#999', width: 1 }, data: [{ yAxis: 0 }] }
    },
    {
      type: 'scatter', xAxisIndex: 4, yAxisIndex: 4, data: barcodeGaps.map(x => [x, 0.5]), symbol: 'rect',
      symbolSize: [1.3, 13.3], itemStyle: { color: '#e8f2ff' }, silent: true
    },
    // E
    {
      name: 'Other Genes ', type: 'scatter', xAxisIndex: 5, yAxisIndex: 5, data: otherE, symbolSize: 3.2, itemStyle: { color: '#b4c0c0' }, silent: true,
      markLine: thresholdLines(threshE, pCutE, '#7f9ccc', 0.8, [3, 3])
    },
    { name: 'MERVL\u2212fusion Genes', type: 'scatter', xAxisIndex: 5, yAxisIndex: 5, data: mervlE, symbolSize: 3.3, itemStyle: { color: RED }, silent: true, z: 3 },
    // F
    { type: 'bar', xAxisIndex: 6, yAxisIndex: 6, data: goUpValues, barWidth: '78%', itemStyle: { color: '#3b66f0' }, silent: true },
    // G
    { type: 'bar', xAxisIndex: 7, yAxisIndex: 7, data: goDownValues, barWidth: '78%', itemStyle: { color: '#3b66f0' }, silent: true }
  ],
  graphic: [
    panelLabel(16, 8, 'A'), panelLabel(375, 8.5, 'B'), panelLabel(3, 315.5, 'C'), panelLabel(223, 315.5, 'D'),
    panelLabel(503, 312.5, 'E'), panelLabel(3, 617.5, 'F'), panelLabel(419, 617.5, 'G'),
    txt(125, 326.7, 'Upregulated TEs in {i|Dot1l}{s|-/-} ESCs', 11.5, 'center'),
    txt(374.3, 336.7, '2-Cell Embryo Gene Set', 12, 'center'),
    txt(272.7, 413.3, '{i|NES}: 1.848', 12),
    txt(272.7, 426.8, '{i|P}-value: 0.001', 12),
    txt(272.7, 440.3, '{i|FDR}: 0.001', 12),
    {
      type: 'rect', silent: true, shape: { x: 261.7, y: 468.3, width: 230, height: 13.4 },
      style: {
        fill: new echarts.graphic.LinearGradient(0, 0, 1, 0, [
          { offset: 0, color: '#e5164a' }, { offset: 0.06, color: '#f1698d' }, { offset: 0.22, color: '#f9c9d6' },
          { offset: 0.45, color: '#ffffff' }, { offset: 0.72, color: '#dedff6' }, { offset: 1, color: '#8e98e6' }
        ]),
        stroke: '#000', lineWidth: 1
      }
    },
    { type: 'line', silent: true, shape: { x1: 270, y1: 491.7, x2: 484, y2: 491.7 }, style: { stroke: '#000', lineWidth: 1.6 } },
    { type: 'polygon', silent: true, shape: { points: [[262, 491.7], [279, 487.8], [279, 495.6]] }, style: { fill: '#000' } },
    { type: 'polygon', silent: true, shape: { points: [[491.7, 491.7], [474.7, 487.8], [474.7, 495.6]] }, style: { fill: '#000' } },
    { type: 'rect', silent: true, shape: { x: 374.5, y: 487, width: 3.6, height: 9.2 }, style: { fill: '#000' } },
    txt(376.7, 507.3, '{i|Dot1l}{s|-/-} ESCs Transcriptome', 12.5, 'center'),
    txt(190, 623, 'Upregulated Genes in {i|Dot1l}{s|-/-} ESCs', 12.5),
    txt(527.7, 623.3, 'Downregulated Genes in {i|Dot1l}{s|-/-} ESCs', 12.5)
  ]
};

chart.setOption(option);
</script>
</body>
</html>
